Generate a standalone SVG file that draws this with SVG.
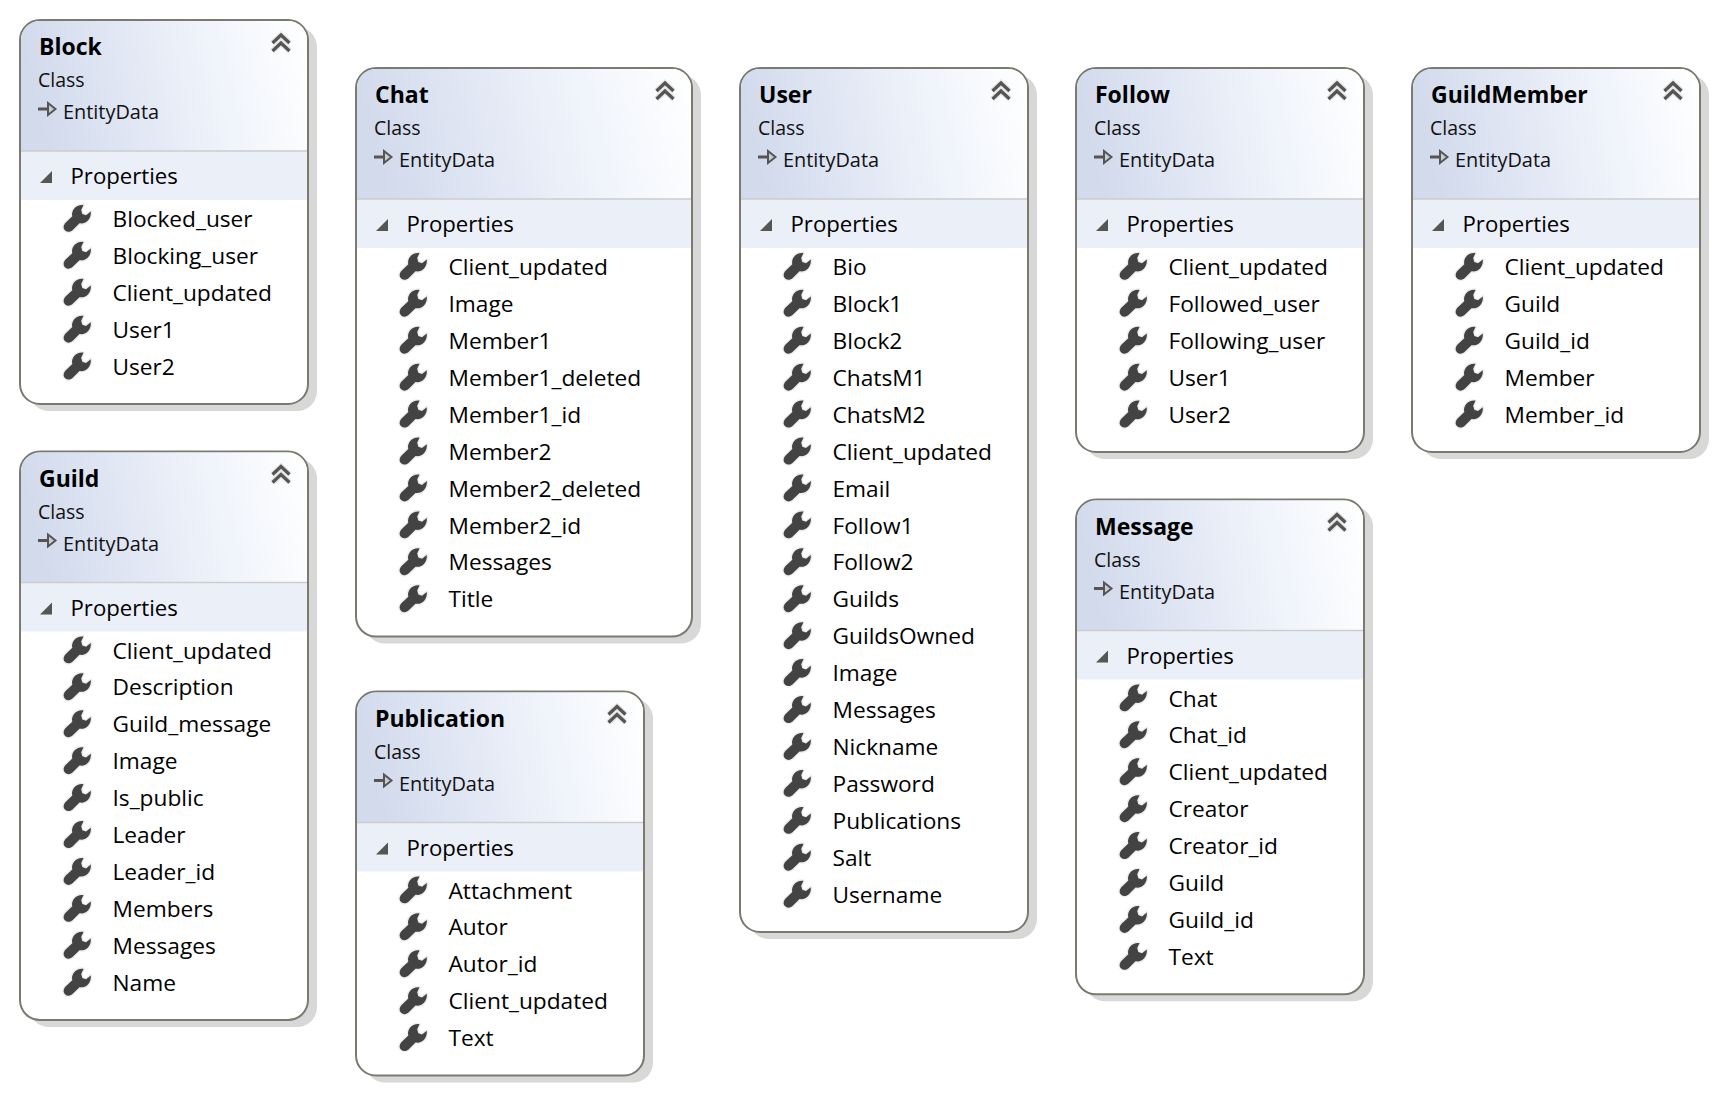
<svg xmlns="http://www.w3.org/2000/svg" xmlns:xlink="http://www.w3.org/1999/xlink" width="1718" height="1094" viewBox="0 0 1718 1094">
<style>
text{font-family:"Open Sans","Noto Sans","Liberation Sans",sans-serif;fill:#000}
.t{font-weight:700;font-size:23px}
.c{font-size:19.5px;fill:#111}
.h{font-size:22.2px}
.r{font-size:22.7px}
.e{font-size:19.9px;fill:#111}
.s{fill:#d8d8d8}
.b{fill:#fff;stroke:#7c7a6e;stroke-width:2}
.band{fill:#ebeff8}
.sep{stroke:#cdcdcd;stroke-width:1.5}
</style>
<defs>
<linearGradient id="hg" x1="0" y1="0.1" x2="1" y2="0">
<stop offset="0" stop-color="#d2daec"/><stop offset="0.65" stop-color="#f0f4fb"/><stop offset="1" stop-color="#ffffff"/>
</linearGradient>
<g id="wr">
<path d="M20.500 1.500C13.500 .5 7.800 6.500 9.300 12.800L2.600 19.200C0 22 .2 25.200 2.200 27C4.300 29 7.500 28.800 10 26.200L16.500 19.800C23 21 28.500 15.500 27.800 8L23 11.800L19.300 10.500L18.200 6.500Z" fill="#434343" stroke="#eeeeee" stroke-width="2.800" paint-order="stroke" stroke-linejoin="round"/>
</g>
<g id="chev">
<path d="M1 10L9.500 2L18 10M1 18L9.500 10L18 18" fill="none" stroke="#e8e8e8" stroke-width="6"/>
<path d="M1 10L9.500 2L18 10M1 18L9.500 10L18 18" fill="none" stroke="#555555" stroke-width="3.200"/>
</g>
<g id="tri"><path d="M12 0V12H0Z" fill="#555555"/></g>
<g id="arr"><path d="M0 7H10" stroke="#555555" stroke-width="3"/><path d="M10 1L17.500 7L10 13Z" fill="#cccccc" stroke="#555555" stroke-width="2"/></g>
<g id="top288">
<path d="M1 131V20A19 19 0 0 1 20 1H268A19 19 0 0 1 287 20V131Z" fill="url(#hg)"/>
<rect class="band" x="1" y="131" width="286" height="49"/>
<path class="sep" d="M1 131H287"/>
<use href="#chev" x="251.500" y="13"/><use href="#tri" x="20" y="151"/><use href="#arr" x="18" y="82"/>
</g>
<g id="top336">
<path d="M1 131V20A19 19 0 0 1 20 1H316A19 19 0 0 1 335 20V131Z" fill="url(#hg)"/>
<rect class="band" x="1" y="131" width="334" height="49"/>
<path class="sep" d="M1 131H335"/>
<use href="#chev" x="299.500" y="13"/><use href="#tri" x="20" y="151"/><use href="#arr" x="18" y="82"/>
</g>
</defs>
<g id="connectors"/>
<g id="Block" transform="translate(20,20)">
<rect class="s" x="9" y="7" width="288" height="384" rx="20"/><rect class="b" width="288" height="384" rx="20"/><use href="#top288"/>
<text class="t" x="19" y="35">Block</text><text class="c" x="18" y="67">Class</text><text class="e" x="43" y="99">EntityData</text><text class="h" x="50.500" y="164">Properties</text>
<use href="#wr" x="43" y="183.500"/><text class="r" x="92.500" y="207">Blocked_user</text>
<use href="#wr" x="43" y="220.400"/><text class="r" x="92.500" y="243.900">Blocking_user</text>
<use href="#wr" x="43" y="257.400"/><text class="r" x="92.500" y="280.900">Client_updated</text>
<use href="#wr" x="43" y="294.300"/><text class="r" x="92.500" y="317.800">User1</text>
<use href="#wr" x="43" y="331.200"/><text class="r" x="92.500" y="354.700">User2</text>
</g>
<g id="Guild" transform="translate(20,451.500)">
<rect class="s" x="9" y="7" width="288" height="568.600" rx="20"/><rect class="b" width="288" height="568.600" rx="20"/><use href="#top288"/>
<text class="t" x="19" y="35">Guild</text><text class="c" x="18" y="67">Class</text><text class="e" x="43" y="99">EntityData</text><text class="h" x="50.500" y="164">Properties</text>
<use href="#wr" x="43" y="183.500"/><text class="r" x="92.500" y="207">Client_updated</text>
<use href="#wr" x="43" y="220.400"/><text class="r" x="92.500" y="243.900">Description</text>
<use href="#wr" x="43" y="257.400"/><text class="r" x="92.500" y="280.900">Guild_message</text>
<use href="#wr" x="43" y="294.300"/><text class="r" x="92.500" y="317.800">Image</text>
<use href="#wr" x="43" y="331.200"/><text class="r" x="92.500" y="354.700">Is_public</text>
<use href="#wr" x="43" y="368.200"/><text class="r" x="92.500" y="391.700">Leader</text>
<use href="#wr" x="43" y="405.100"/><text class="r" x="92.500" y="428.600">Leader_id</text>
<use href="#wr" x="43" y="442"/><text class="r" x="92.500" y="465.500">Members</text>
<use href="#wr" x="43" y="478.900"/><text class="r" x="92.500" y="502.400">Messages</text>
<use href="#wr" x="43" y="515.900"/><text class="r" x="92.500" y="539.400">Name</text>
</g>
<g id="Chat" transform="translate(356,68)">
<rect class="s" x="9" y="7" width="336" height="568.600" rx="20"/><rect class="b" width="336" height="568.600" rx="20"/><use href="#top336"/>
<text class="t" x="19" y="35">Chat</text><text class="c" x="18" y="67">Class</text><text class="e" x="43" y="99">EntityData</text><text class="h" x="50.500" y="164">Properties</text>
<use href="#wr" x="43" y="183.500"/><text class="r" x="92.500" y="207">Client_updated</text>
<use href="#wr" x="43" y="220.400"/><text class="r" x="92.500" y="243.900">Image</text>
<use href="#wr" x="43" y="257.400"/><text class="r" x="92.500" y="280.900">Member1</text>
<use href="#wr" x="43" y="294.300"/><text class="r" x="92.500" y="317.800">Member1_deleted</text>
<use href="#wr" x="43" y="331.200"/><text class="r" x="92.500" y="354.700">Member1_id</text>
<use href="#wr" x="43" y="368.200"/><text class="r" x="92.500" y="391.700">Member2</text>
<use href="#wr" x="43" y="405.100"/><text class="r" x="92.500" y="428.600">Member2_deleted</text>
<use href="#wr" x="43" y="442"/><text class="r" x="92.500" y="465.500">Member2_id</text>
<use href="#wr" x="43" y="478.900"/><text class="r" x="92.500" y="502.400">Messages</text>
<use href="#wr" x="43" y="515.900"/><text class="r" x="92.500" y="539.400">Title</text>
</g>
<g id="Publication" transform="translate(356,691.500)">
<rect class="s" x="9" y="7" width="288" height="384" rx="20"/><rect class="b" width="288" height="384" rx="20"/><use href="#top288"/>
<text class="t" x="19" y="35">Publication</text><text class="c" x="18" y="67">Class</text><text class="e" x="43" y="99">EntityData</text><text class="h" x="50.500" y="164">Properties</text>
<use href="#wr" x="43" y="183.500"/><text class="r" x="92.500" y="207">Attachment</text>
<use href="#wr" x="43" y="220.400"/><text class="r" x="92.500" y="243.900">Autor</text>
<use href="#wr" x="43" y="257.400"/><text class="r" x="92.500" y="280.900">Autor_id</text>
<use href="#wr" x="43" y="294.300"/><text class="r" x="92.500" y="317.800">Client_updated</text>
<use href="#wr" x="43" y="331.200"/><text class="r" x="92.500" y="354.700">Text</text>
</g>
<g id="User" transform="translate(740,68)">
<rect class="s" x="9" y="7" width="288" height="864" rx="20"/><rect class="b" width="288" height="864" rx="20"/><use href="#top288"/>
<text class="t" x="19" y="35">User</text><text class="c" x="18" y="67">Class</text><text class="e" x="43" y="99">EntityData</text><text class="h" x="50.500" y="164">Properties</text>
<use href="#wr" x="43" y="183.500"/><text class="r" x="92.500" y="207">Bio</text>
<use href="#wr" x="43" y="220.400"/><text class="r" x="92.500" y="243.900">Block1</text>
<use href="#wr" x="43" y="257.400"/><text class="r" x="92.500" y="280.900">Block2</text>
<use href="#wr" x="43" y="294.300"/><text class="r" x="92.500" y="317.800">ChatsM1</text>
<use href="#wr" x="43" y="331.200"/><text class="r" x="92.500" y="354.700">ChatsM2</text>
<use href="#wr" x="43" y="368.200"/><text class="r" x="92.500" y="391.700">Client_updated</text>
<use href="#wr" x="43" y="405.100"/><text class="r" x="92.500" y="428.600">Email</text>
<use href="#wr" x="43" y="442"/><text class="r" x="92.500" y="465.500">Follow1</text>
<use href="#wr" x="43" y="478.900"/><text class="r" x="92.500" y="502.400">Follow2</text>
<use href="#wr" x="43" y="515.900"/><text class="r" x="92.500" y="539.400">Guilds</text>
<use href="#wr" x="43" y="552.800"/><text class="r" x="92.500" y="576.300">GuildsOwned</text>
<use href="#wr" x="43" y="589.700"/><text class="r" x="92.500" y="613.200">Image</text>
<use href="#wr" x="43" y="626.700"/><text class="r" x="92.500" y="650.200">Messages</text>
<use href="#wr" x="43" y="663.600"/><text class="r" x="92.500" y="687.100">Nickname</text>
<use href="#wr" x="43" y="700.500"/><text class="r" x="92.500" y="724">Password</text>
<use href="#wr" x="43" y="737.500"/><text class="r" x="92.500" y="761">Publications</text>
<use href="#wr" x="43" y="774.400"/><text class="r" x="92.500" y="797.900">Salt</text>
<use href="#wr" x="43" y="811.300"/><text class="r" x="92.500" y="834.800">Username</text>
</g>
<g id="Follow" transform="translate(1076,68)">
<rect class="s" x="9" y="7" width="288" height="384" rx="20"/><rect class="b" width="288" height="384" rx="20"/><use href="#top288"/>
<text class="t" x="19" y="35">Follow</text><text class="c" x="18" y="67">Class</text><text class="e" x="43" y="99">EntityData</text><text class="h" x="50.500" y="164">Properties</text>
<use href="#wr" x="43" y="183.500"/><text class="r" x="92.500" y="207">Client_updated</text>
<use href="#wr" x="43" y="220.400"/><text class="r" x="92.500" y="243.900">Followed_user</text>
<use href="#wr" x="43" y="257.400"/><text class="r" x="92.500" y="280.900">Following_user</text>
<use href="#wr" x="43" y="294.300"/><text class="r" x="92.500" y="317.800">User1</text>
<use href="#wr" x="43" y="331.200"/><text class="r" x="92.500" y="354.700">User2</text>
</g>
<g id="Message" transform="translate(1076,499.500)">
<rect class="s" x="9" y="7" width="288" height="494.800" rx="20"/><rect class="b" width="288" height="494.800" rx="20"/><use href="#top288"/>
<text class="t" x="19" y="35">Message</text><text class="c" x="18" y="67">Class</text><text class="e" x="43" y="99">EntityData</text><text class="h" x="50.500" y="164">Properties</text>
<use href="#wr" x="43" y="183.500"/><text class="r" x="92.500" y="207">Chat</text>
<use href="#wr" x="43" y="220.400"/><text class="r" x="92.500" y="243.900">Chat_id</text>
<use href="#wr" x="43" y="257.400"/><text class="r" x="92.500" y="280.900">Client_updated</text>
<use href="#wr" x="43" y="294.300"/><text class="r" x="92.500" y="317.800">Creator</text>
<use href="#wr" x="43" y="331.200"/><text class="r" x="92.500" y="354.700">Creator_id</text>
<use href="#wr" x="43" y="368.200"/><text class="r" x="92.500" y="391.700">Guild</text>
<use href="#wr" x="43" y="405.100"/><text class="r" x="92.500" y="428.600">Guild_id</text>
<use href="#wr" x="43" y="442"/><text class="r" x="92.500" y="465.500">Text</text>
</g>
<g id="GuildMember" transform="translate(1412,68)">
<rect class="s" x="9" y="7" width="288" height="384" rx="20"/><rect class="b" width="288" height="384" rx="20"/><use href="#top288"/>
<text class="t" x="19" y="35">GuildMember</text><text class="c" x="18" y="67">Class</text><text class="e" x="43" y="99">EntityData</text><text class="h" x="50.500" y="164">Properties</text>
<use href="#wr" x="43" y="183.500"/><text class="r" x="92.500" y="207">Client_updated</text>
<use href="#wr" x="43" y="220.400"/><text class="r" x="92.500" y="243.900">Guild</text>
<use href="#wr" x="43" y="257.400"/><text class="r" x="92.500" y="280.900">Guild_id</text>
<use href="#wr" x="43" y="294.300"/><text class="r" x="92.500" y="317.800">Member</text>
<use href="#wr" x="43" y="331.200"/><text class="r" x="92.500" y="354.700">Member_id</text>
</g>
</svg>
